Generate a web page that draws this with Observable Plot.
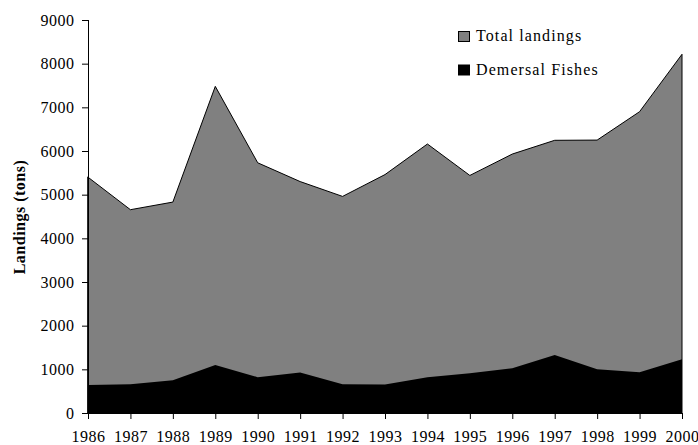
<!DOCTYPE html>
<html>
<head>
<meta charset="utf-8">
<script src="https://cdn.jsdelivr.net/npm/d3@7"></script>
<script src="https://cdn.jsdelivr.net/npm/@observablehq/plot@0.6"></script>
<style>
  html, body { margin: 0; padding: 0; background: #fff; }
  #chart { position: relative; width: 698px; height: 445px; }
</style>
</head>
<body>
<div id="chart"></div>
<script>
const years = [1986, 1987, 1988, 1989, 1990, 1991, 1992, 1993, 1994, 1995, 1996, 1997, 1998, 1999, 2000];
const totalLandings = [5400, 4656, 4830, 7480, 5730, 5300, 4960, 5460, 6160, 5440, 5930, 6245, 6250, 6900, 8215];
const demersalFishes = [640, 660, 750, 1100, 820, 925, 660, 650, 820, 910, 1025, 1330, 1000, 935, 1230];
const seriesNames = ["Total landings", "Demersal Fishes"];
const seriesColors = ["#808080", "#000000"];
const yTicks = [0, 1000, 2000, 3000, 4000, 5000, 6000, 7000, 8000, 9000];
const yLabel = "Landings (tons)";

const rows = years.map((year, i) => ({year, total: totalLandings[i], demersal: demersalFishes[i]}));

const chart = Plot.plot({
  width: 698,
  height: 445,
  marginLeft: 88,
  marginRight: 16,
  marginTop: 20,
  marginBottom: 32,
  style: {fontFamily: "'Liberation Serif', 'Times New Roman', serif", fontSize: "16px", letterSpacing: "0.5px", color: "#000", background: "#fff", overflow: "visible"},
  x: {type: "linear", domain: [1986, 2000]},
  y: {domain: [0, 9000]},
  marks: [
    Plot.areaY(rows, {x: "year", y: "total", fill: seriesColors[0], stroke: "#000", strokeWidth: 1}),
    Plot.areaY(rows, {x: "year", y: "demersal", fill: seriesColors[1]}),
    Plot.ruleY([0], {stroke: "#000", strokeWidth: 1}),
    Plot.ruleX([1986], {y1: 0, y2: 9000, stroke: "#000", strokeWidth: 1}),
    Plot.axisX({ticks: years, tickFormat: d => String(d), tickSize: 6, tickPadding: 11, label: null, stroke: "#000"}),
    Plot.axisY({ticks: yTicks, tickFormat: d => String(d), tickSize: 6, tickPadding: 8, label: null, stroke: "#000"}),
    Plot.text([yLabel], {frameAnchor: "left", text: d => d, rotate: -90, dx: -69, textAnchor: "middle", lineAnchor: "middle", fontWeight: "bold", fontSize: 16})
  ]
});

document.getElementById("chart").appendChild(chart);

// legend
const svg = d3.select(chart);
const lg = svg.append("g").attr("font-size", 16).attr("letter-spacing", "1.1px").attr("text-anchor", "start");
seriesNames.forEach((name, i) => {
  const top = 31 + i * 33.5;
  lg.append("rect").attr("x", 458.5).attr("y", top + 0.5).attr("width", 11).attr("height", 10)
    .attr("fill", seriesColors[i]).attr("stroke", "#000").attr("stroke-width", 1);
  lg.append("text").attr("x", 476).attr("y", top + 10).attr("fill", "#000").attr("text-anchor", "start").text(name);
});
</script>
</body>
</html>
